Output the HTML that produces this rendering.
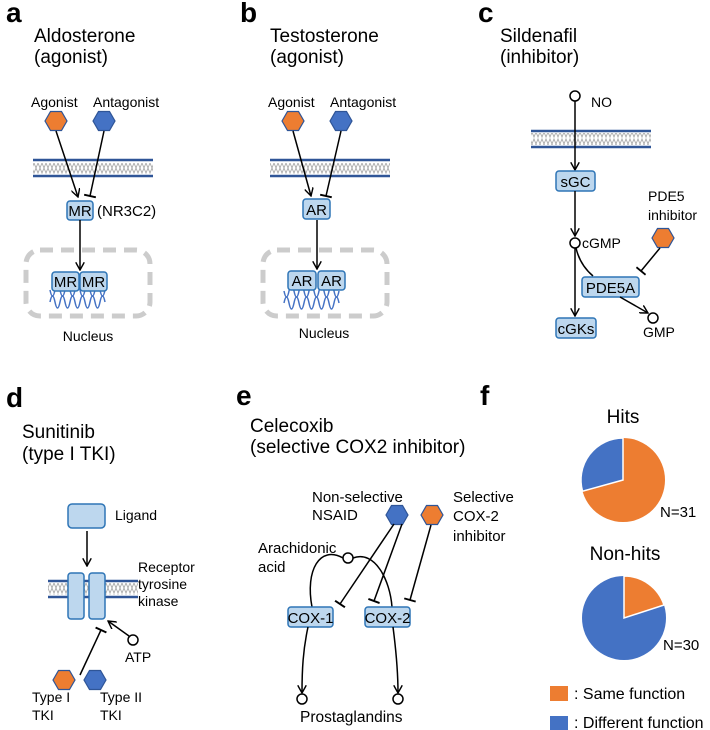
<!DOCTYPE html>
<html><head><meta charset="utf-8"><style>
html,body{margin:0;padding:0;background:#fff;}
svg{display:block;font-family:"Liberation Sans",sans-serif;}
</style></head><body>
<svg width="710" height="730" viewBox="0 0 710 730" font-size="14" xmlns="http://www.w3.org/2000/svg">
<defs>
<marker id="ar" viewBox="0 0 10 10" refX="9" refY="5" markerWidth="9" markerHeight="9" orient="auto" markerUnits="userSpaceOnUse"><path d="M0,0 L9,5 L0,10" fill="none" stroke="#000" stroke-width="1.6"/></marker>
<marker id="tb" viewBox="0 0 10 10" refX="5" refY="5" markerWidth="12" markerHeight="12" orient="auto" markerUnits="userSpaceOnUse"><path d="M5,0 L5,10" stroke="#000" stroke-width="1.6"/></marker>
<polygon id="hex" points="-11,0 -5.5,-9.5 5.5,-9.5 11,0 5.5,9.5 -5.5,9.5" stroke="#2F5597" stroke-width="1.2"/>
<pattern id="zz" width="4" height="12" patternUnits="userSpaceOnUse"><path d="M0,0 L2,5 L4,0 M0,12 L2,7 L4,12" fill="none" stroke="#aaa" stroke-width="0.9"/></pattern>
<g id="dna"><path d="M0,0 q2.5,12 5,0 t5,0 t5,0 t5,0 t5,0 t5,0 t5,0 t5,0 t5,0 t5,0 t5,0" fill="none" stroke="#4472C4" stroke-width="1.5"/><path d="M0,12 q2.5,-12 5,0 t5,0 t5,0 t5,0 t5,0 t5,0 t5,0 t5,0 t5,0 t5,0 t5,0" fill="none" stroke="#4472C4" stroke-width="1.5"/></g>
</defs>
<style>
.t{font-size:19px;fill:#000}
.l{fill:#000}
.b{font-size:28px;font-weight:bold;fill:#000}
.box{fill:#BDD7EE;stroke:#2E75B6;stroke-width:1.5}
.ln{stroke:#000;stroke-width:1.5;fill:none}
.m{stroke:#2F5597;stroke-width:2.5}
</style>

<!-- Panel a -->
<text class="b" x="6" y="22">a</text>
<text class="t" x="34" y="42">Aldosterone</text>
<text class="t" x="34" y="63">(agonist)</text>
<text class="l" x="31" y="107">Agonist</text>
<text class="l" x="93" y="107">Antagonist</text>
<use href="#hex" x="56" y="121" fill="#ED7D31"/>
<use href="#hex" x="104" y="121" fill="#4472C4"/>
<rect x="33" y="163" width="120" height="11" fill="url(#zz)"/>
<line class="m" x1="33" y1="160" x2="153" y2="160"/><line class="m" x1="33" y1="176" x2="153" y2="176"/>
<line class="ln" x1="56" y1="131" x2="78" y2="197" marker-end="url(#ar)"/>
<line class="ln" x1="104" y1="131" x2="90" y2="196" marker-end="url(#tb)"/>
<rect class="box" x="67" y="201" width="26" height="19" rx="3"/>
<text class="l" x="80" y="216" text-anchor="middle" font-size="15">MR</text>
<text class="l" x="97" y="216" font-size="15">(NR3C2)</text>
<line class="ln" x1="80" y1="220" x2="80" y2="270" marker-end="url(#ar)"/>
<rect x="26" y="250" width="124" height="66" rx="14" fill="none" stroke="#ccc" stroke-width="5" stroke-dasharray="13,8"/>
<use href="#dna" x="50" y="290"/>
<rect class="box" x="52" y="272" width="27" height="19" rx="3"/><rect class="box" x="80" y="272" width="27" height="19" rx="3"/>
<text class="l" x="65.5" y="287" text-anchor="middle" font-size="15">MR</text><text class="l" x="93.5" y="287" text-anchor="middle" font-size="15">MR</text>
<text class="l" x="88" y="341" text-anchor="middle">Nucleus</text>

<!-- Panel b -->
<text class="b" x="240" y="22">b</text>
<text class="t" x="270" y="42">Testosterone</text>
<text class="t" x="270" y="63">(agonist)</text>
<text class="l" x="268" y="107">Agonist</text>
<text class="l" x="330" y="107">Antagonist</text>
<use href="#hex" x="293" y="121" fill="#ED7D31"/>
<use href="#hex" x="341" y="121" fill="#4472C4"/>
<rect x="270" y="163" width="120" height="11" fill="url(#zz)"/>
<line class="m" x1="270" y1="160" x2="390" y2="160"/><line class="m" x1="270" y1="176" x2="390" y2="176"/>
<line class="ln" x1="293" y1="131" x2="311" y2="196" marker-end="url(#ar)"/>
<line class="ln" x1="341" y1="131" x2="326" y2="196" marker-end="url(#tb)"/>
<rect class="box" x="303" y="199" width="27" height="20" rx="3"/>
<text class="l" x="316.5" y="215" text-anchor="middle" font-size="15">AR</text>
<line class="ln" x1="317" y1="220" x2="317" y2="269" marker-end="url(#ar)"/>
<rect x="263" y="250" width="124" height="66" rx="14" fill="none" stroke="#ccc" stroke-width="5" stroke-dasharray="13,8"/>
<use href="#dna" x="284" y="291"/>
<rect class="box" x="288" y="271" width="28" height="19" rx="3"/><rect class="box" x="318" y="271" width="27" height="19" rx="3"/>
<text class="l" x="302" y="286" text-anchor="middle" font-size="15">AR</text><text class="l" x="331.5" y="286" text-anchor="middle" font-size="15">AR</text>
<text class="l" x="324" y="338" text-anchor="middle">Nucleus</text>

<!-- Panel c -->
<text class="b" x="478" y="22">c</text>
<text class="t" x="500" y="42">Sildenafil</text>
<text class="t" x="500" y="63">(inhibitor)</text>
<circle cx="575" cy="96" r="5" fill="#fff" stroke="#000" stroke-width="1.5"/>
<text class="l" x="591" y="107">NO</text>
<rect x="531" y="133" width="120" height="12" fill="url(#zz)"/>
<line class="m" x1="531" y1="131" x2="651" y2="131"/><line class="m" x1="531" y1="147" x2="651" y2="147"/>
<line class="ln" x1="575" y1="101" x2="575" y2="170" marker-end="url(#ar)"/>
<rect class="box" x="556" y="171" width="39" height="20" rx="3"/>
<text class="l" x="575.5" y="187" text-anchor="middle" font-size="15">sGC</text>
<line class="ln" x1="575" y1="191" x2="575" y2="236" marker-end="url(#ar)"/>
<circle cx="575" cy="243" r="5" fill="#fff" stroke="#000" stroke-width="1.5"/>
<text class="l" x="582" y="248">cGMP</text>
<text class="l" x="648" y="201">PDE5</text>
<text class="l" x="648" y="220">inhibitor</text>
<use href="#hex" x="663" y="238" fill="#ED7D31"/>
<line class="ln" x1="660" y1="248" x2="641" y2="271" marker-end="url(#tb)"/>
<path class="ln" d="M576,248 Q580,265 593,276"/>
<line class="ln" x1="575" y1="248" x2="575" y2="316" marker-end="url(#ar)"/>
<rect class="box" x="582" y="277" width="57" height="20" rx="3"/>
<text class="l" x="610.5" y="293" text-anchor="middle" font-size="15">PDE5A</text>
<line class="ln" x1="620" y1="297" x2="648" y2="313" marker-end="url(#ar)"/>
<circle cx="653" cy="318" r="5" fill="#fff" stroke="#000" stroke-width="1.5"/>
<text class="l" x="643" y="337">GMP</text>
<rect class="box" x="556" y="318" width="40" height="20" rx="3"/>
<text class="l" x="576" y="334" text-anchor="middle" font-size="15">cGKs</text>

<!-- Panel d -->
<text class="b" x="6" y="407">d</text>
<text class="t" x="22" y="438">Sunitinib</text>
<text class="t" x="22" y="460">(type I TKI)</text>
<rect class="box" x="68" y="504" width="37" height="24" rx="4"/>
<text class="l" x="115" y="520">Ligand</text>
<line class="ln" x1="87" y1="531" x2="87" y2="566" marker-end="url(#ar)"/>
<rect x="48" y="583" width="90" height="12" fill="url(#zz)"/>
<line class="m" x1="48" y1="581" x2="138" y2="581"/><line class="m" x1="48" y1="597" x2="138" y2="597"/>
<rect class="box" x="68" y="573" width="16" height="46" rx="3"/>
<rect class="box" x="89" y="573" width="16" height="46" rx="3"/>
<text class="l" x="138" y="572">Receptor</text>
<text class="l" x="138" y="589">tyrosine</text>
<text class="l" x="138" y="606">kinase</text>
<circle cx="133" cy="640" r="5" fill="#fff" stroke="#000" stroke-width="1.5"/>
<text class="l" x="125" y="662">ATP</text>
<line class="ln" x1="129" y1="636" x2="108" y2="621" marker-end="url(#ar)"/>
<line class="ln" x1="80" y1="675" x2="101" y2="630" marker-end="url(#tb)"/>
<use href="#hex" x="64" y="680" fill="#ED7D31"/>
<use href="#hex" x="95" y="680" fill="#4472C4"/>
<text class="l" x="32" y="702">Type I</text><text class="l" x="32" y="720">TKI</text>
<text class="l" x="100" y="702">Type II</text><text class="l" x="100" y="720">TKI</text>

<!-- Panel e -->
<text class="b" x="236" y="405">e</text>
<text class="t" x="250" y="432">Celecoxib</text>
<text class="t" x="250" y="453">(selective COX2 inhibitor)</text>
<text class="l" x="312" y="502" font-size="15">Non-selective</text>
<text class="l" x="312" y="520" font-size="15">NSAID</text>
<use href="#hex" x="397" y="515" fill="#4472C4"/>
<use href="#hex" x="432" y="515" fill="#ED7D31"/>
<text class="l" x="453" y="502" font-size="15">Selective</text>
<text class="l" x="453" y="521" font-size="15">COX-2</text>
<text class="l" x="453" y="541" font-size="15">inhibitor</text>
<text class="l" x="258" y="553" font-size="15">Arachidonic</text>
<text class="l" x="258" y="572" font-size="15">acid</text>
<line class="ln" x1="394" y1="524" x2="340" y2="604" marker-end="url(#tb)"/>
<line class="ln" x1="402" y1="524" x2="374" y2="601" marker-end="url(#tb)"/>
<line class="ln" x1="431" y1="525" x2="410" y2="600" marker-end="url(#tb)"/>
<path class="ln" d="M343,558 C320,545 305,570 312,607"/>
<path class="ln" d="M353,558 C375,550 390,580 392,607"/>
<circle cx="348" cy="558" r="5" fill="#fff" stroke="#000" stroke-width="1.5"/>
<rect class="box" x="288" y="607" width="45" height="20" rx="3"/>
<text class="l" x="310.5" y="623" text-anchor="middle" font-size="15">COX-1</text>
<rect class="box" x="365" y="607" width="45" height="20" rx="3"/>
<text class="l" x="387.5" y="623" text-anchor="middle" font-size="15">COX-2</text>
<path class="ln" d="M308,627 C303,650 302,670 302,693" marker-end="url(#ar)"/>
<path class="ln" d="M393,627 C396,650 398,670 398,693" marker-end="url(#ar)"/>
<circle cx="302" cy="699" r="5" fill="#fff" stroke="#000" stroke-width="1.5"/>
<circle cx="398" cy="699" r="5" fill="#fff" stroke="#000" stroke-width="1.5"/>
<text class="l" x="300" y="722" font-size="15.5">Prostaglandins</text>

<!-- Panel f -->
<text class="b" x="480" y="405">f</text>
<text class="t" x="623" y="423" text-anchor="middle">Hits</text>
<circle cx="623" cy="480" r="42" fill="#ED7D31"/>
<path d="M623,480 L623,438 A42,42 0 0 0 582.5,491.2 Z" fill="#4472C4" stroke="#fff" stroke-width="1.5"/>
<text class="l" x="660" y="517" font-size="15">N=31</text>
<text class="t" x="625" y="560" text-anchor="middle">Non-hits</text>
<circle cx="624" cy="618" r="42" fill="#4472C4"/>
<path d="M624,618 L624,576 A42,42 0 0 1 664,605 Z" fill="#ED7D31" stroke="#fff" stroke-width="1.5"/>
<text class="l" x="663" y="650" font-size="15">N=30</text>
<rect x="550" y="686" width="18" height="15" fill="#ED7D31"/>
<text class="l" x="574" y="699" font-size="16">: Same function</text>
<rect x="550" y="716" width="18" height="14" fill="#4472C4"/>
<text class="l" x="574" y="728" font-size="16">: Different function</text>
</svg>
</body></html>
